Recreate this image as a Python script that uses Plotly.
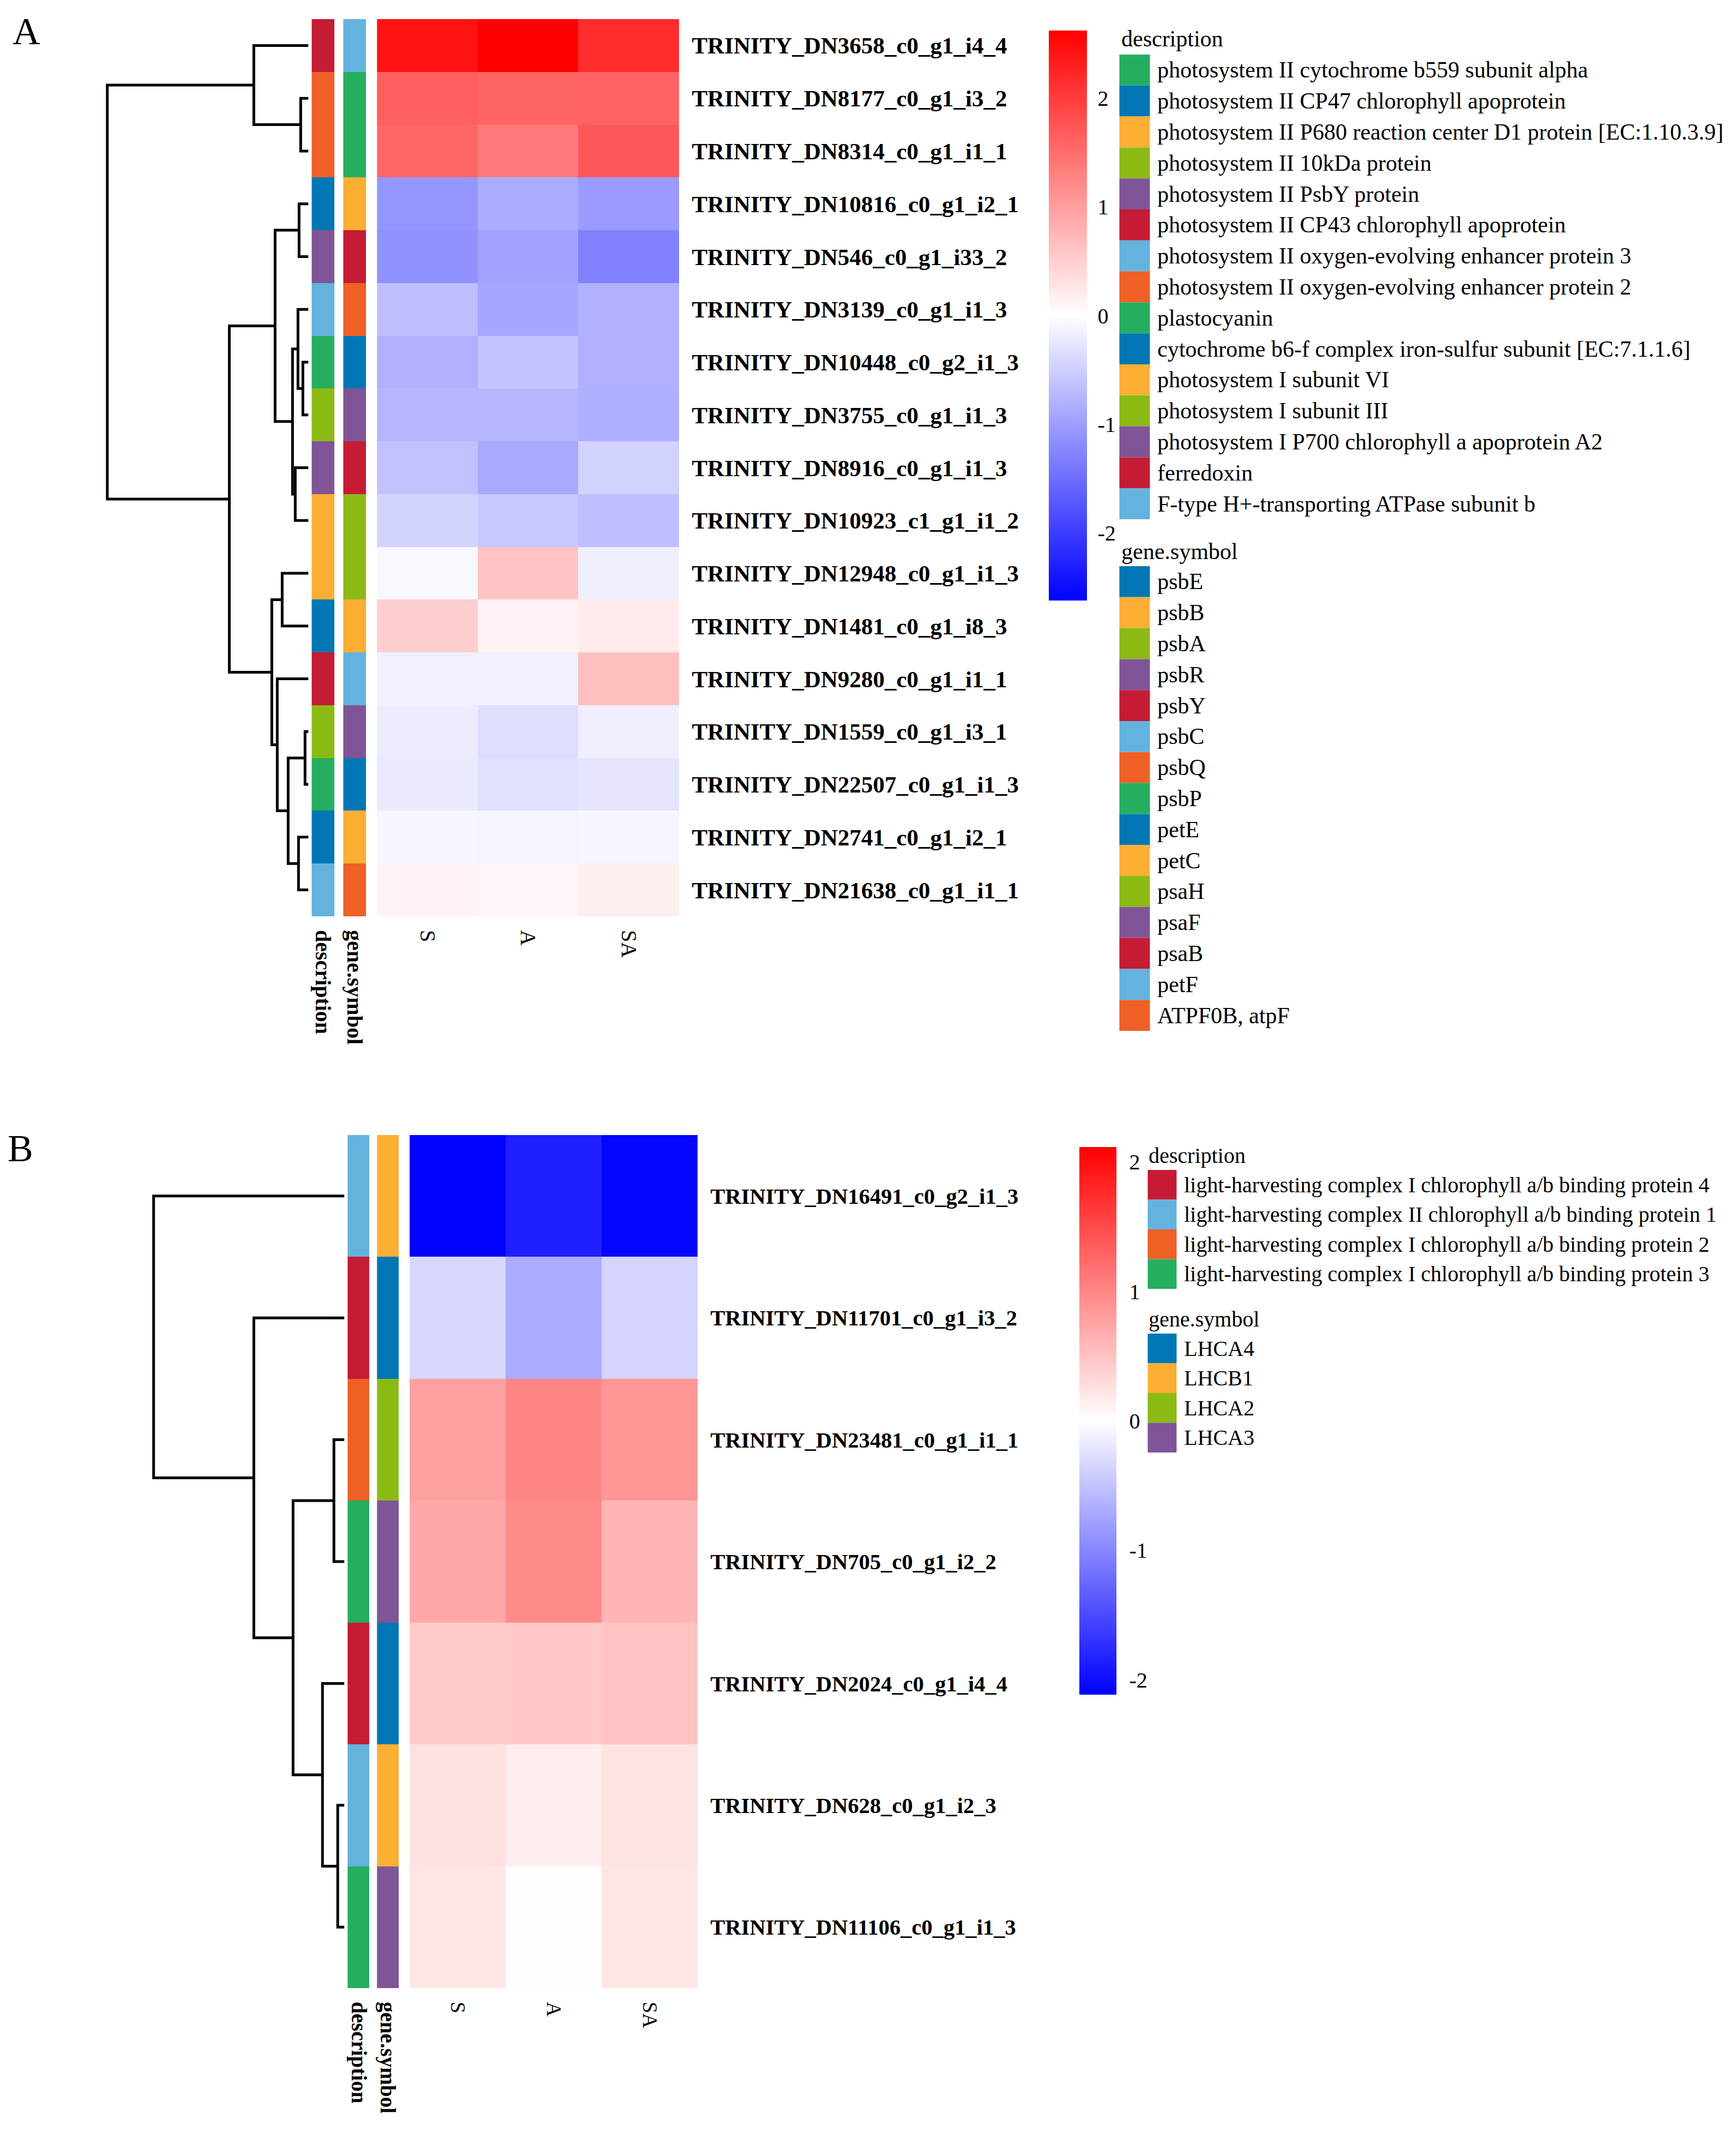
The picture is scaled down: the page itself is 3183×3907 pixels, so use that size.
import plotly.graph_objects as go

W, H = 3183, 3907
SERIF = "Liberation Serif"
PAGE_OFFSET = 8  # default body margin of the html page

# ---------------- data: panel A ----------------
samples = ["S", "A", "SA"]

genes_A = [
    "TRINITY_DN3658_c0_g1_i4_4", "TRINITY_DN8177_c0_g1_i3_2", "TRINITY_DN8314_c0_g1_i1_1",
    "TRINITY_DN10816_c0_g1_i2_1", "TRINITY_DN546_c0_g1_i33_2", "TRINITY_DN3139_c0_g1_i1_3",
    "TRINITY_DN10448_c0_g2_i1_3", "TRINITY_DN3755_c0_g1_i1_3", "TRINITY_DN8916_c0_g1_i1_3",
    "TRINITY_DN10923_c1_g1_i1_2", "TRINITY_DN12948_c0_g1_i1_3", "TRINITY_DN1481_c0_g1_i8_3",
    "TRINITY_DN9280_c0_g1_i1_1", "TRINITY_DN1559_c0_g1_i3_1", "TRINITY_DN22507_c0_g1_i1_3",
    "TRINITY_DN2741_c0_g1_i2_1", "TRINITY_DN21638_c0_g1_i1_1",
]
values_A = [
    [2.44, 2.62, 2.17],
    [1.64, 1.58, 1.61],
    [1.57, 1.36, 1.73],
    [-1.09, -0.86, -1.03],
    [-1.13, -0.97, -1.29],
    [-0.67, -0.91, -0.81],
    [-0.81, -0.62, -0.81],
    [-0.75, -0.75, -0.82],
    [-0.64, -0.88, -0.46],
    [-0.45, -0.56, -0.66],
    [-0.07, 0.62, -0.17],
    [0.50, 0.13, 0.21],
    [-0.15, -0.15, 0.66],
    [-0.20, -0.35, -0.17],
    [-0.22, -0.32, -0.28],
    [-0.09, -0.11, -0.09],
    [0.11, 0.09, 0.17],
]
desc_items_A = [
    "photosystem II cytochrome b559 subunit alpha",
    "photosystem II CP47 chlorophyll apoprotein",
    "photosystem II P680 reaction center D1 protein [EC:1.10.3.9]",
    "photosystem II 10kDa protein",
    "photosystem II PsbY protein",
    "photosystem II CP43 chlorophyll apoprotein",
    "photosystem II oxygen-evolving enhancer protein 3",
    "photosystem II oxygen-evolving enhancer protein 2",
    "plastocyanin",
    "cytochrome b6-f complex iron-sulfur subunit [EC:7.1.1.6]",
    "photosystem I subunit VI",
    "photosystem I subunit III",
    "photosystem I P700 chlorophyll a apoprotein A2",
    "ferredoxin",
    "F-type H+-transporting ATPase subunit b",
]
gene_items_A = ["psbE", "psbB", "psbA", "psbR", "psbY", "psbC", "psbQ", "psbP",
                "petE", "petC", "psaH", "psaF", "psaB", "petF", "ATPF0B, atpF"]
row_desc_A = [5, 7, 7, 1, 4, 6, 0, 3, 12, 2, 10, 9, 13, 11, 8, 9, 14]
row_gene_A = [5, 7, 7, 1, 4, 6, 0, 3, 12, 2, 10, 9, 13, 11, 8, 9, 14]
# (left, right, height); leaves 0..16 in display order, internal nodes from 17
linkage_A = [
    (1, 2, 0.14), (0, 17, 1.00), (3, 4, 0.17), (6, 7, 0.10), (5, 20, 0.19),
    (8, 9, 0.24), (21, 22, 0.29), (19, 23, 0.61), (10, 11, 0.48), (13, 14, 0.06),
    (15, 16, 0.18), (26, 27, 0.37), (12, 28, 0.57), (25, 29, 0.67), (24, 30, 1.45),
    (18, 31, 3.69),
]

# ---------------- data: panel B ----------------
genes_B = [
    "TRINITY_DN16491_c0_g2_i1_3", "TRINITY_DN11701_c0_g1_i3_2", "TRINITY_DN23481_c0_g1_i1_1",
    "TRINITY_DN705_c0_g1_i2_2", "TRINITY_DN2024_c0_g1_i4_4", "TRINITY_DN628_c0_g1_i2_3",
    "TRINITY_DN11106_c0_g1_i1_3",
]
values_B = [
    [-2.11, -1.86, -2.07],
    [-0.32, -0.70, -0.36],
    [0.79, 1.01, 0.88],
    [0.72, 0.97, 0.61],
    [0.44, 0.45, 0.50],
    [0.26, 0.15, 0.23],
    [0.21, 0.02, 0.21],
]
desc_items_B = [
    "light-harvesting complex I chlorophyll a/b binding protein 4",
    "light-harvesting complex II chlorophyll a/b binding protein 1",
    "light-harvesting complex I chlorophyll a/b binding protein 2",
    "light-harvesting complex I chlorophyll a/b binding protein 3",
]
gene_items_B = ["LHCA4", "LHCB1", "LHCA2", "LHCA3"]
row_desc_B = [1, 0, 2, 3, 0, 1, 3]
row_gene_B = [1, 0, 2, 3, 0, 1, 3]
linkage_B = [
    (5, 6, 0.12), (4, 7, 0.40), (2, 3, 0.19), (9, 8, 0.94), (1, 10, 1.66), (0, 11, 3.50),
]

colorbar_ticks = [-2, -1, 0, 1, 2]
colorbar_ticktext = ["-2", "-1", "0", "1", "2"]

# ---------------- colours ----------------
GREEN, BLUE, ORANGE, YGREEN = "#25AE60", "#0077B4", "#FCAE35", "#8CBA14"
PURPLE, RED, LBLUE, ORED = "#7F5597", "#C51B34", "#63B3DE", "#EE6025"
desc_colors_A = ([GREEN, BLUE, ORANGE, YGREEN, PURPLE, RED, LBLUE, ORED] * 2)[:15]
gene_colors_A = ([BLUE, ORANGE, YGREEN, PURPLE, RED, LBLUE, ORED, GREEN] * 2)[:15]
desc_colors_B = [RED, LBLUE, ORED, GREEN]
gene_colors_B = [BLUE, ORANGE, YGREEN, PURPLE]
HEAT_SCALE = [[0, "#0000FF"], [0.5, "#FFFFFF"], [1, "#FF0000"]]

# ---------------- geometry (pixels) ----------------
geo_A = dict(top=35, bottom=1680, dendro=(180, 566), leaf=564, desc=(570, 612), gene=(628, 670),
             heat=(690, 1245), zmax=2.62, cbar=(1923, 56, 1101, 70), cbar_ticklen=12,
             rowfont=43, colfont=40, annfont=40,
             leg=dict(sw=(2053, 2109), text_x=2121, title_x=2055, desc_title=71, desc_top=100,
                      gene_title=1011, gene_top=1038, step=56.8, size=42),
             label=("A", 47, 58))
geo_B = dict(top=2081, bottom=3645, dendro=(270, 632), leaf=630, desc=(636, 676), gene=(690, 730),
             heat=(750, 1279), zmax=2.115, cbar=(1979, 2103, 3107, 68), cbar_ticklen=16,
             rowfont=40.5, colfont=38, annfont=39,
             leg=dict(sw=(2105, 2158), text_x=2170, title_x=2105, desc_title=2118, desc_top=2145,
                      gene_title=2418, gene_top=2445, step=54.5, size=40),
             label=("B", 36, 2105))


def fx(p):
    return (p - PAGE_OFFSET) / W


def fy(p):
    return 1 - (p - PAGE_OFFSET) / H


def step_scale(colors):
    n = len(colors)
    cs = []
    for i, c in enumerate(colors):
        cs.append([i / n, c])
        cs.append([(i + 1) / n, c])
    return cs


def dendro_lines(linkage, n_leaves):
    pos = {i: (float(i), 0.0) for i in range(n_leaves)}
    xs, ys = [], []
    for k, (a, b, h) in enumerate(linkage):
        ya, ha = pos[a]
        yb, hb = pos[b]
        xs += [ha, h, h, hb, None]
        ys += [ya, ya, yb, yb, None]
        pos[n_leaves + k] = ((ya + yb) / 2, h)
    return xs, ys


def xn(i):
    return "x" if i == 1 else f"x{i}"


def xk(i):
    return "xaxis" if i == 1 else f"xaxis{i}"


fig = go.Figure()
layout = dict(width=W, height=H, margin=dict(l=0, r=0, t=0, b=0),
              paper_bgcolor="white", plot_bgcolor="white", showlegend=False,
              shapes=[], annotations=[])


def add_panel(pidx, genes, values, desc_items, desc_colors, gene_items, gene_colors,
              row_desc, row_gene, linkage, g):
    n = len(genes)
    rows = list(range(n))
    base = pidx * 4
    ih, idsc, ign, idd = base + 1, base + 2, base + 3, base + 4
    yname = "y" if pidx == 0 else "y2"
    ykey = "yaxis" if pidx == 0 else "yaxis2"
    ydom = [fy(g["bottom"]), fy(g["top"])]

    layout[ykey] = dict(domain=ydom, range=[n - 0.5, -0.5], anchor=xn(ih), side="right",
                        tickvals=rows, ticktext=genes, ticks="", ticklabelstandoff=22,
                        tickfont=dict(family=SERIF, size=g["rowfont"], color="black", weight="bold"),
                        showgrid=False, zeroline=False, showline=False)
    common_x = dict(anchor=yname, showgrid=False, zeroline=False, showline=False, ticks="",
                    tickangle=90, ticklabelstandoff=24)
    layout[xk(ih)] = dict(domain=[fx(g["heat"][0]), fx(g["heat"][1])],
                          tickfont=dict(family=SERIF, size=g["colfont"], color="black"), **common_x)
    layout[xk(idsc)] = dict(domain=[fx(g["desc"][0]), fx(g["desc"][1])],
                            tickfont=dict(family=SERIF, size=g["annfont"], color="black", weight="bold"),
                            **common_x)
    layout[xk(ign)] = dict(domain=[fx(g["gene"][0]), fx(g["gene"][1])],
                           tickfont=dict(family=SERIF, size=g["annfont"], color="black", weight="bold"),
                           **common_x)
    d0, d1 = g["dendro"]
    layout[xk(idd)] = dict(domain=[fx(d0), fx(d1)], anchor=yname, visible=False,
                           range=[(g["leaf"] - d0) / 100, (g["leaf"] - d1) / 100])

    cl, ct, cb, cw = g["cbar"]
    fig.add_trace(go.Heatmap(
        z=values, x=samples, y=rows, xaxis=xn(ih), yaxis=yname,
        colorscale=HEAT_SCALE, zmin=-g["zmax"], zmax=g["zmax"], hoverinfo="skip",
        colorbar=dict(x=fx(cl), xanchor="left", y=fy((ct + cb) / 2), yanchor="middle",
                      len=cb - ct, lenmode="pixels", thickness=cw, thicknessmode="pixels",
                      xpad=0, ypad=0, outlinewidth=0, ticks="outside",
                      ticklen=g["cbar_ticklen"], tickcolor="rgba(0,0,0,0)",
                      tickvals=colorbar_ticks, ticktext=colorbar_ticktext,
                      tickfont=dict(family=SERIF, size=40, color="black"))))
    fig.add_trace(go.Heatmap(
        z=[[v] for v in row_desc], x=["description"], y=rows, xaxis=xn(idsc), yaxis=yname,
        colorscale=step_scale(desc_colors), zmin=-0.5, zmax=len(desc_items) - 0.5,
        showscale=False, hoverinfo="skip"))
    fig.add_trace(go.Heatmap(
        z=[[v] for v in row_gene], x=["gene.symbol"], y=rows, xaxis=xn(ign), yaxis=yname,
        colorscale=step_scale(gene_colors), zmin=-0.5, zmax=len(gene_items) - 0.5,
        showscale=False, hoverinfo="skip"))
    xs, ys = dendro_lines(linkage, n)
    fig.add_trace(go.Scatter(x=xs, y=ys, mode="lines", xaxis=xn(idd), yaxis=yname,
                             line=dict(color="black", width=5), hoverinfo="skip"))

    # legends
    L = g["leg"]
    for title, ty, top, items, colors in [("description", L["desc_title"], L["desc_top"], desc_items, desc_colors),
                                          ("gene.symbol", L["gene_title"], L["gene_top"], gene_items, gene_colors)]:
        layout["annotations"].append(dict(x=fx(L["title_x"]), y=fy(ty), xref="paper", yref="paper",
                                          text=title, showarrow=False, xanchor="left", yanchor="middle",
                                          font=dict(family=SERIF, size=L["size"], color="black")))
        for k, (name, col) in enumerate(zip(items, colors)):
            y0 = top + k * L["step"]
            layout["shapes"].append(dict(type="rect", xref="paper", yref="paper",
                                         x0=fx(L["sw"][0]), x1=fx(L["sw"][1]),
                                         y0=fy(y0), y1=fy(y0 + L["step"]),
                                         fillcolor=col, line=dict(width=0)))
            layout["annotations"].append(dict(x=fx(L["text_x"]), y=fy(y0 + L["step"] / 2),
                                              xref="paper", yref="paper", text=name, showarrow=False,
                                              xanchor="left", yanchor="middle",
                                              font=dict(family=SERIF, size=L["size"], color="black")))
    lab, lx, ly = g["label"]
    layout["annotations"].append(dict(x=fx(lx), y=fy(ly), xref="paper", yref="paper", text=lab,
                                      showarrow=False, xanchor="center", yanchor="middle",
                                      font=dict(family=SERIF, size=70, color="black")))


add_panel(0, genes_A, values_A, desc_items_A, desc_colors_A, gene_items_A, gene_colors_A,
          row_desc_A, row_gene_A, linkage_A, geo_A)
add_panel(1, genes_B, values_B, desc_items_B, desc_colors_B, gene_items_B, gene_colors_B,
          row_desc_B, row_gene_B, linkage_B, geo_B)

fig.update_layout(**layout)
fig.write_html("out.html")
